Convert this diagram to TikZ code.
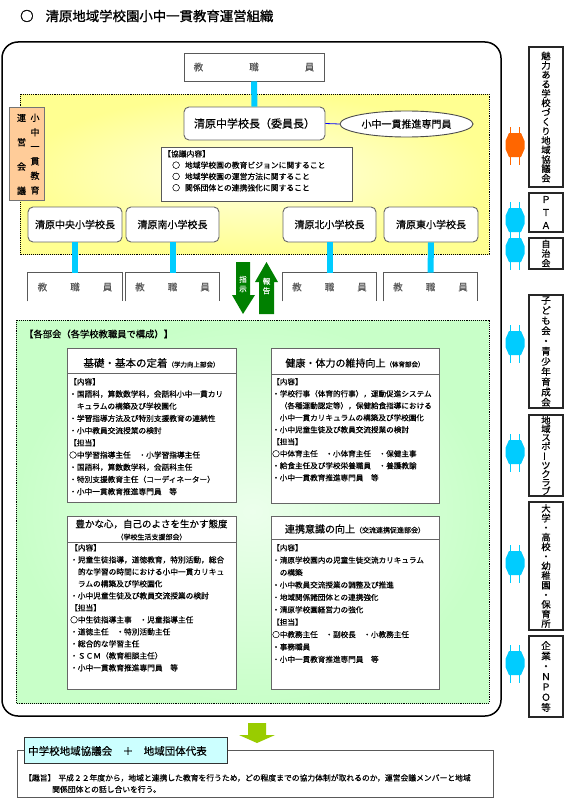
\documentclass[tikz,border=0pt]{standalone}
\usepackage{fontspec}
\setmainfont{Noto Sans CJK JP}[FakeBold=0.4]
\newfontfamily\titlejp{Noto Sans CJK JP}[FakeBold=1.0]
\usepackage{graphicx}
\usetikzlibrary{shapes.geometric}
\definecolor{cyanA}{RGB}{0,204,255}
\definecolor{orangeA}{RGB}{255,102,0}
\definecolor{greenA}{RGB}{0,128,0}
\definecolor{yelIn}{RGB}{255,255,228}
\definecolor{yelOut}{RGB}{255,255,145}
\definecolor{grnIn}{RGB}{236,255,236}
\definecolor{grnOut}{RGB}{200,255,200}
\definecolor{peachA}{RGB}{255,204,153}
\definecolor{tabA}{RGB}{204,255,255}
\definecolor{ygA}{RGB}{153,204,0}
\definecolor{blueA}{RGB}{0,0,255}
\newcommand{\fs}[2]{\fontsize{#1}{#2}\selectfont}
\begin{document}
\begin{tikzpicture}[x=1pt,y=-1pt,
  staffbox/.style={draw=black!65, line width=0.9pt, fill=white, text=black!65, inner sep=0, font=\fs{9.5}{11}},
  schbox/.style={draw=black!60, line width=0.9pt, rounded corners=5pt, fill=white, inner sep=0, font=\fs{10}{12}},
  conn/.style={cyanA, line width=6pt},
  sidebox/.style={draw=black!85, line width=1.6pt, fill=white, minimum width=34, inner sep=0, align=center},
  actbox/.style={draw=black!60, line width=0.9pt, fill=white, anchor=north west, inner sep=0},
  bodytext/.style={anchor=north west, inner sep=0, align=left, font=\fs{7.7}{12.2}},
  region/.style={draw=black, densely dotted, line width=0.9pt}
]
\useasboundingbox (0,0) rectangle (569,800);
\fill[white] (0,0) rectangle (569,800);

% title
\node[anchor=west, inner sep=0, font=\titlejp\fs{13.4}{15}] (title) at (20,16) {○\hspace{12pt}清原地域学校園小中一貫教育運営組織};

% outer frame
\draw[black, line width=1.5pt, rounded corners=16pt] (2,42) rectangle (501,716);

% regions
\shadedraw[region, inner color=yelIn, outer color=yelOut] (20,94) rectangle (489,254);
\shadedraw[region, inner color=grnIn, outer color=grnOut] (16,320) rectangle (489,703);

% top staff and chair
\node[staffbox, minimum width=140, minimum height=28] (tstaff) at (254,67) {教\hspace{46pt}職\hspace{46pt}員};
\node[schbox, minimum width=141, minimum height=33, font=\fs{11}{13}] (chair) at (254.5,123.5) {清原中学校長（委員長）};
\draw[conn] (tstaff.south) -- (chair.north);
\node[draw=black!70, line width=0.9pt, fill=white, ellipse, minimum width=133, minimum height=26, inner sep=0, font=\fs{10}{12}] (spec) at (406.5,124) {小中一貫推進専門員};
\draw[blueA, line width=0.8pt] (chair.east) -- (spec.west);

% discussion box
\node[draw=black!65, line width=0.9pt, fill=white, anchor=north west, minimum width=191, minimum height=54, inner sep=0] (kyogi) at (161,147) {};
\node[anchor=north west, inner sep=0, align=left, font=\fs{7.8}{11.3}] (kyogitxt) at ([xshift=2pt,yshift=-3pt]kyogi.north west) {【協議内容】\\
\hspace*{9pt}○\hspace{5pt}地域学校園の教育ビジョンに関すること\\
\hspace*{9pt}○\hspace{5pt}地域学校園の運営方法に関すること\\
\hspace*{9pt}○\hspace{5pt}関係団体との連携強化に関すること};

% council label
\node[draw=black!55, line width=0.8pt, fill=peachA, minimum width=35, minimum height=93, inner sep=0] (lbl) at (26.5,153.5) {};
\node[inner sep=0, align=center, font=\fs{9}{24.3}] (lbla) at (21.5,154.5) {運\\営\\会\\議};
\node[inner sep=0, align=center, font=\fs{9}{14.5}] (lblb) at (35,154) {小\\中\\一\\貫\\教\\育};

% schools
\node[schbox, minimum width=94, minimum height=35] (s1) at (75,224.5) {清原中央小学校長};
\node[schbox, minimum width=93, minimum height=35] (s2) at (172.5,224.5) {清原南小学校長};
\node[schbox, minimum width=93, minimum height=35] (s3) at (329.5,224.5) {清原北小学校長};
\node[schbox, minimum width=94, minimum height=35] (s4) at (431,224.5) {清原東小学校長};

% school staff
\foreach \n/\xx/\ww in {1/75/94, 2/172.5/93, 3/329.5/93, 4/430.5/93}{
  \node[staffbox, draw=none, minimum width=\ww, minimum height=28] (b\n) at (\xx,287) {教\hspace{23pt}職\hspace{23pt}員};
  \draw[black!65, line width=0.9pt] (b\n.south west) -- (b\n.north west) -- (b\n.north east) -- (b\n.south east);
  \draw[conn] (s\n.south) -- (b\n.north);
}

% instruct / report arrows
\fill[greenA] (236,262) -- (250,262) -- (250,295) -- (255,295) -- (243,314) -- (232,295) -- (236,295) -- cycle;
\fill[greenA] (259,314) -- (274,314) -- (274,282) -- (278,282) -- (266.5,262) -- (255,282) -- (259,282) -- cycle;
\node[inner sep=0, align=center, text=white, font=\fs{7.5}{9.5}] (shiji) at (243,284) {指\\示};
\node[inner sep=0, align=center, text=white, font=\fs{7.5}{9.5}] (hokoku) at (266.5,286) {報\\告};

% sections header
\node[anchor=west, inner sep=0, font=\fs{9.3}{11}] (bukai) at (24,334) {【各部会（各学校教職員で構成）】};

% activity boxes
\node[actbox, minimum width=169, minimum height=154] (k1) at (67,348) {};
\node[actbox, minimum width=168, minimum height=155] (k2) at (271,348) {};
\node[actbox, minimum width=169, minimum height=173] (k3) at (67,516) {};
\node[actbox, minimum width=168, minimum height=173] (k4) at (271,516) {};
\draw[black!60, line width=0.9pt] ([yshift=-25pt]k1.north west) -- ([yshift=-25pt]k1.north east);
\draw[black!60, line width=0.9pt] ([yshift=-26pt]k2.north west) -- ([yshift=-26pt]k2.north east);
\draw[black!60, line width=0.9pt] ([yshift=-26pt]k3.north west) -- ([yshift=-26pt]k3.north east);
\draw[black!60, line width=0.9pt] ([yshift=-23pt]k4.north west) -- ([yshift=-23pt]k4.north east);

\node[inner sep=0, font=\fs{10.5}{12}] (t1) at (151.5,363) {基礎・基本の定着{\fs{6.5}{8}（学力向上部会）}};
\node[inner sep=0, font=\fs{10}{12}] (t2) at (355,363) {健康・体力の維持向上{\fs{6.5}{8}（体育部会）}};
\node[inner sep=0, font=\fs{9.5}{12}] (t3) at (151.5,524) {豊かな心，自己のよさを生かす態度};
\node[inner sep=0, font=\fs{7}{9}] (t3b) at (151.5,537) {（学校生活支援部会）};
\node[inner sep=0, font=\fs{10}{12}] (t4) at (355,529) {連携意識の向上{\fs{7}{9}（交流連携促進部会）}};

\node[bodytext] (c1) at (69,378) {【内容】\\
・国語科，算数数学科，会話科小中一貫カリ\\
　キュラムの構築及び学校園化\\
・学習指導方法及び特別支援教育の連続性\\
・小中教員交流授業の検討\\
【担当】\\
○中学習指導主任　・小学習指導主任\\
・国語科，算数数学科，会話科主任\\
・特別支援教育主任（コーディネーター）\\
・小中一貫教育推進専門員　等};

\node[bodytext, font=\fs{7.6}{12}] (c2) at (272,378) {【内容】\\
・学校行事（体育的行事），運動促進システム\\
　（各種運動認定等），保健給食指導における\\
　小中一貫カリキュラムの構築及び学校園化\\
・小中児童生徒及び教員交流授業の検討\\
【担当】\\
○中体育主任　・小体育主任　・保健主事\\
・給食主任及び学校栄養職員　・養護教諭\\
・小中一貫教育推進専門員　等};

\node[bodytext, font=\fs{7.7}{12}] (c3) at (70,544) {【内容】\\
・児童生徒指導，道徳教育，特別活動，総合\\
　的な学習の時間における小中一貫カリキュ\\
　ラムの構築及び学校園化\\
・小中児童生徒及び教員交流授業の検討\\
【担当】\\
○中生徒指導主事　・児童指導主任\\
・道徳主任　・特別活動主任\\
・総合的な学習主任\\
・ＳＣＭ（教育相談主任）\\
・小中一貫教育推進専門員　等};

\node[bodytext, font=\fs{7.6}{12.4}] (c4) at (272,544) {【内容】\\
・清原学校園内の児童生徒交流カリキュラム\\
　の構築\\
・小中教員交流授業の調整及び推進\\
・地域関係諸団体との連携強化\\
・清原学校園経営力の強化\\
【担当】\\
○中教務主任　・副校長　・小教務主任\\
・事務職員\\
・小中一貫教育推進専門員　等};

% side organisations
\node[sidebox, minimum height=140, font=\fs{9.3}{9.4}] (o1) at (546,117) {魅\\力\\あ\\る\\学\\校\\づ\\く\\り\\地\\域\\協\\議\\会};
\node[sidebox, minimum height=39, font=\fs{9.5}{13}] (o2) at (546,212.5) {Ｐ\\Ｔ\\Ａ};
\node[sidebox, minimum height=31, font=\fs{9}{9.6}] (o3) at (546,253.5) {自\\治\\会};
\node[sidebox, minimum height=113, font=\fs{9.5}{10.2}] (o4) at (546,351.5) {子\\ど\\も\\会\\・\\青\\少\\年\\育\\成\\会};
\node[sidebox, minimum height=81, font=\fs{9.3}{8.6}] (o5) at (546,455.5) {地\\域\\ス\\ポ\\\rotatebox[origin=c]{90}{ー}\\ツ\\ク\\ラ\\ブ};
\node[sidebox, minimum height=128, font=\fs{9.3}{9.6}] (o6) at (546,566) {大\\学\\・\\高\\校\\・\\幼\\稚\\園\\・\\保\\育\\所};
\node[sidebox, minimum height=81, font=\fs{9.5}{10.3}] (o7) at (546,676.5) {企\\業\\・\\Ｎ\\Ｐ\\Ｏ\\等};

\foreach \yc/\cc in {145/orangeA, 220/cyanA, 250/cyanA, 343/cyanA, 452/cyanA, 563/cyanA, 663/cyanA}{
  \fill[\cc] (509,\yc-12) -- (521,\yc-12) -- (524.5,\yc-4) -- (524.5,\yc+4) -- (521,\yc+12) -- (509,\yc+12) -- (505.5,\yc+4) -- (505.5,\yc-4) -- cycle;
  \draw[\cc, line width=1.4pt] (510.5,\yc-18) -- (510.5,\yc+20) (519.5,\yc-18) -- (519.5,\yc+20);
}

% bottom
\fill[ygA] (248,723) -- (266,723) -- (266,735) -- (275,735) -- (257,743) -- (239,735) -- (248,735) -- cycle;
\node[draw=black!65, line width=0.9pt, fill=white, anchor=north west, minimum width=476, minimum height=47, inner sep=0] (cbox) at (17,750) {};
\node[draw=black!80, line width=0.9pt, fill=tabA, anchor=north west, minimum width=203, minimum height=26, inner sep=0] (tab) at (24,737) {};
\node[anchor=west, inner sep=0, font=\fs{10.5}{12}] (tabtxt) at (28,751) {中学校地域協議会　＋　地域団体代表};
\node[anchor=north west, inner sep=0, align=left, font=\fs{7.8}{11.5}] (cboxtxt) at (24,774) {【趣旨】\hspace{3pt}平成２２年度から，地域と連携した教育を行うため，どの程度までの協力体制が取れるのか，運営会議メンバーと地域\\
\hspace*{28pt}関係団体との話し合いを行う。};
\end{tikzpicture}
\end{document}
